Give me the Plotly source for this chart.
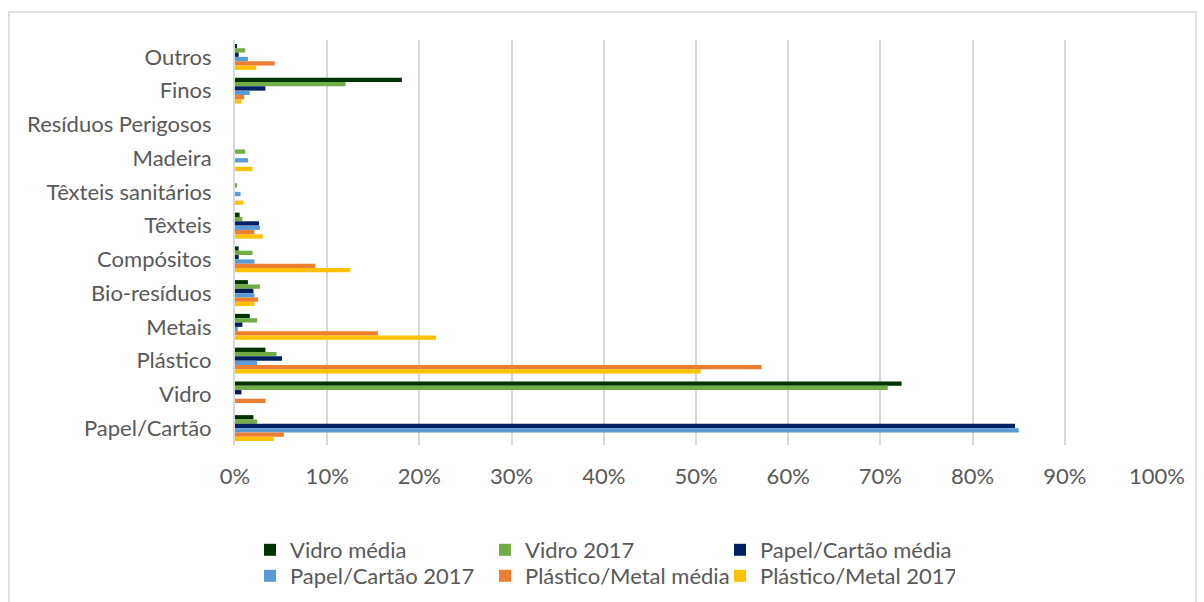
import plotly.graph_objects as go

categories = ["Outros", "Finos", "Resíduos Perigosos", "Madeira", "Têxteis sanitários",
              "Têxteis", "Compósitos", "Bio-resíduos", "Metais", "Plástico", "Vidro", "Papel/Cartão"]

vidro_media = [0.2, 18.1, 0.0, 0.0, 0.0, 0.5, 0.4, 1.4, 1.6, 3.3, 72.3, 2.0]
vidro_2017 = [1.1, 12.0, 0.0, 1.1, 0.2, 0.8, 1.9, 2.7, 2.4, 4.5, 70.8, 2.4]
papel_media = [0.4, 3.3, 0.0, 0.0, 0.0, 2.6, 0.4, 2.0, 0.8, 5.1, 0.7, 84.6]
papel_2017 = [1.4, 1.6, 0.0, 1.4, 0.6, 2.7, 2.1, 2.1, 0.3, 2.4, 0.0, 85.0]
plastico_media = [4.3, 1.0, 0.0, 0.0, 0.0, 2.1, 8.7, 2.5, 15.5, 57.1, 3.3, 5.3]
plastico_2017 = [2.3, 0.7, 0.0, 1.9, 0.9, 3.0, 12.5, 2.1, 21.8, 50.5, 0.0, 4.2]

series_names = ["Vidro média", "Vidro 2017", "Papel/Cartão média",
                "Papel/Cartão 2017", "Plástico/Metal média", "Plástico/Metal 2017"]
series_values = [vidro_media, vidro_2017, papel_media, papel_2017, plastico_media, plastico_2017]
series_colors = ["#003300", "#70AD47", "#002060", "#5B9BD5", "#ED7D31", "#FFC000"]

tick_vals = [0, 10, 20, 30, 40, 50, 60, 70, 80, 90, 100]
tick_text = [f"{v}%" for v in tick_vals]

FONT = "Lato"
FS = 22
W, H = 1204, 602
L, R, T, B = 235, 47, 40, 157
pw, ph = W - L - R, H - T - B

def px_x(x):
    return (x - L) / pw

def px_y(y):
    return (H - B - y) / ph

fig = go.Figure()
for i, (name, vals, col) in enumerate(zip(series_names, series_values, series_colors)):
    fig.add_trace(go.Bar(
        y=categories, x=vals, name=name, orientation="h",
        marker=dict(color=col, line=dict(width=0)),
        legend="legend" if i < 3 else "legend2",
    ))

legend_common = dict(
    orientation="h", xref="paper", yref="paper", xanchor="left", yanchor="middle",
    font=dict(family=FONT, size=FS, color="#595959"),
    entrywidth=190, entrywidthmode="pixels", itemwidth=30,
    bgcolor="rgba(0,0,0,0)", traceorder="normal",
)

fig.update_layout(
    width=W, height=H,
    margin=dict(l=L, r=R, t=T, b=B, pad=0, autoexpand=False),
    paper_bgcolor="white", plot_bgcolor="white",
    barmode="group", bargap=0.23, bargroupgap=0,
    font=dict(family=FONT, color="#595959"),
    xaxis=dict(range=[0, 100], tickvals=tick_vals, ticktext=tick_text,
               showgrid=True, gridcolor="#d9d9d9", gridwidth=2,
               zeroline=False, showline=False, ticks="", ticklabelstandoff=16,
               tickfont=dict(family=FONT, size=FS, color="#595959")),
    yaxis=dict(categoryorder="array", categoryarray=categories, autorange="reversed",
               showline=True, linecolor="#d9d9d9", linewidth=2, ticks="",
               showgrid=False, ticklabelstandoff=17,
               tickfont=dict(family=FONT, size=FS, color="#595959")),
    legend=dict(legend_common, x=px_x(250), y=px_y(550)),
    legend2=dict(legend_common, x=px_x(250), y=px_y(576)),
    shapes=[dict(type="rect", xref="paper", yref="paper",
                 x0=px_x(9), x1=px_x(1196), y0=px_y(620), y1=px_y(12),
                 line=dict(color="#d9d9d9", width=1.5), fillcolor="rgba(0,0,0,0)", layer="below")],
)

fig.write_html("out.html")
